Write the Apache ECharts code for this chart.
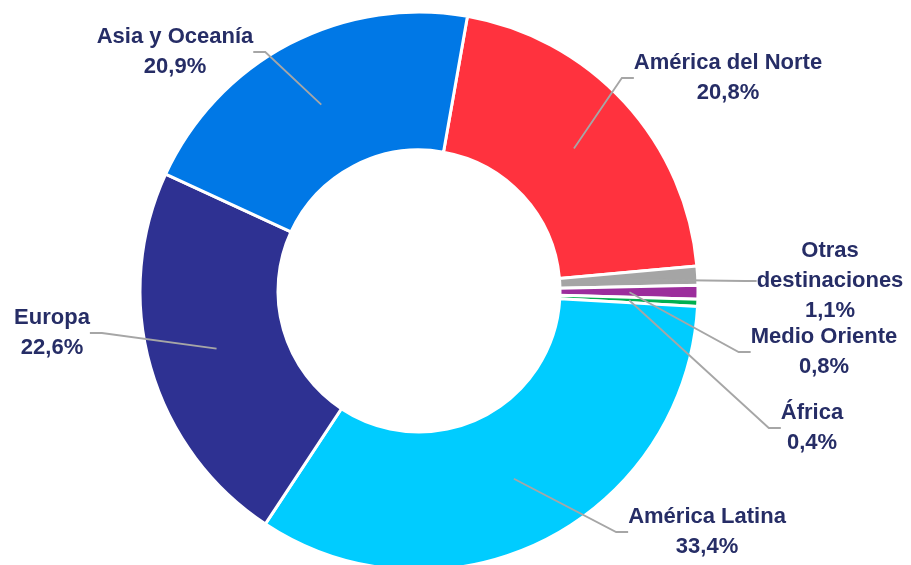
<!DOCTYPE html>
<html><head><meta charset="utf-8">
<script src="https://cdn.jsdelivr.net/npm/echarts@6/dist/echarts.min.js"></script>
<style>html,body{margin:0;padding:0;background:#fff}#c{width:911px;height:565px}</style>
</head><body><div id="c"></div>
<script>
const categories = ['América del Norte', 'Otras destinaciones', 'Medio Oriente', 'África', 'América Latina', 'Europa', 'Asia y Oceanía'];
const shares = [20.8, 1.1, 0.8, 0.4, 33.4, 22.6, 20.9];
const labelText = ['América del Norte', 'Otras\ndestinaciones', 'Medio Oriente', 'África', 'América Latina', 'Europa', 'Asia y Oceanía'];
const colors = ['#FF323E', '#A5A5A5', '#9C2D9C', '#00B050', '#00CCFF', '#2E3192', '#0078E6'];

const CX = 419, CY = 291, R_IN = 141, R_OUT = 279;
// label centre positions (px)
const labelPos = [[728, 78], [830, 281], [824, 352], [812, 428], [707, 532], [52, 333], [175, 52]];

const fmt = v => v.toFixed(1).replace('.', ',') + '%';
let acc = 0;
const anchors = shares.map((v, i) => { const mid = acc + v / 2; acc += v; return { name: categories[i], value: [(R_IN + R_OUT) / 2, mid] }; });

const chart = echarts.init(document.getElementById('c'));
chart.setOption({
  animation: false,
  backgroundColor: '#fff',
  polar: { center: [CX, CY], radius: [0, R_OUT] },
  angleAxis: { type: 'value', min: 0, max: 100, startAngle: 80, clockwise: true, show: false },
  radiusAxis: { type: 'value', min: 0, max: R_OUT, show: false },
  series: [
    {
      type: 'pie', center: [CX, CY], radius: [R_IN, R_OUT], startAngle: 80, clockwise: true,
      silent: true, avoidLabelOverlap: false,
      label: { show: false }, labelLine: { show: false },
      itemStyle: { borderColor: '#fff', borderWidth: 3 },
      data: categories.map((n, i) => ({ name: n, value: shares[i], itemStyle: { color: colors[i] } }))
    },
    {
      type: 'scatter', coordinateSystem: 'polar', symbolSize: 1, silent: true, z: 5,
      itemStyle: { color: 'rgba(0,0,0,0)', opacity: 1 },
      data: anchors,
      label: {
        show: true,
        formatter: p => labelText[p.dataIndex] + '\n' + fmt(shares[p.dataIndex]),
        fontFamily: 'Liberation Sans', fontWeight: 'bold', fontSize: 22, lineHeight: 30,
        color: '#262D66', align: 'center', opacity: 1
      },
      labelLine: { show: true, length2: 12, lineStyle: { color: '#A6A6A6', width: 1.8, opacity: 1 } },
      labelLayout: p => ({ x: labelPos[p.dataIndex][0], y: labelPos[p.dataIndex][1], align: 'center', verticalAlign: 'middle' })
    }
  ]
});
</script></body></html>
